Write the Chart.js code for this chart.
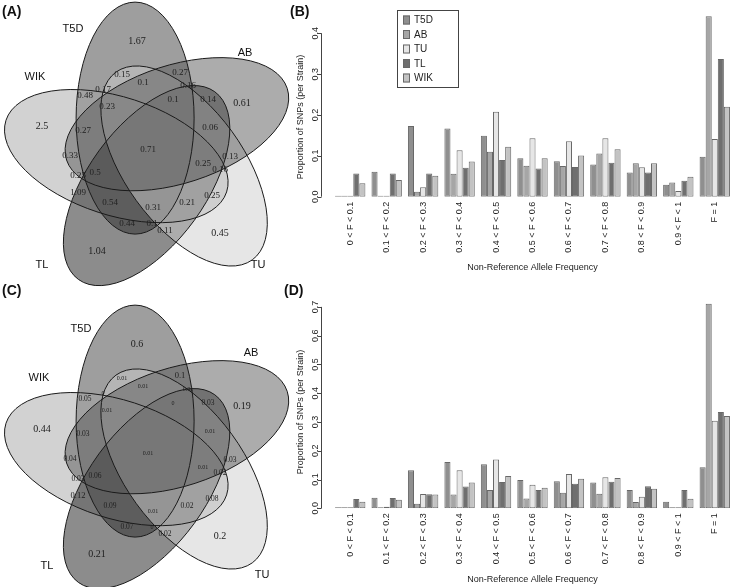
<!DOCTYPE html>
<html>
<head>
<meta charset="utf-8">
<script src="https://cdn.jsdelivr.net/npm/chart.js@4.4.1/dist/chart.umd.min.js"></script>
<style>
  html, body { margin: 0; padding: 0; background: #fff; }
  #wrap { position: relative; width: 733px; height: 587px; overflow: hidden; }
  canvas { position: absolute; }
  .tag { position: absolute; font: bold 14px "Liberation Sans", Arial, sans-serif; line-height: 16px; color: #111; }
</style>
</head>
<body>
<div id="wrap">
  <canvas id="vennA" width="295" height="295" style="left:0;top:0"></canvas>
  <canvas id="vennC" width="295" height="284" style="left:0;top:303px"></canvas>
  <canvas id="barB" width="448" height="290" style="left:285px;top:0"></canvas>
  <canvas id="barD" width="448" height="292" style="left:285px;top:295px"></canvas>
  <div class="tag" style="left:2px;top:3px">(A)</div>
  <div class="tag" style="left:290px;top:3px">(B)</div>
  <div class="tag" style="left:2px;top:282px">(C)</div>
  <div class="tag" style="left:284px;top:282px">(D)</div>
</div>
<script>
// strains and allele frequency bins
const strains = ["T5D", "AB", "TU", "TL", "WIK"];
const freqBins = ["0 < F < 0.1", "0.1 < F < 0.2", "0.2 < F < 0.3", "0.3 < F < 0.4", "0.4 < F < 0.5",
  "0.5 < F < 0.6", "0.6 < F < 0.7", "0.7 < F < 0.8", "0.8 < F < 0.9", "0.9 < F < 1", "F = 1"];

// (B) proportion of SNPs per strain
const allT5D = [0, 0.061, 0.173, 0.167, 0.149, 0.094, 0.087, 0.079, 0.059, 0.029, 0.098];
const allAB  = [0, 0, 0.012, 0.056, 0.110, 0.076, 0.075, 0.106, 0.082, 0.035, 0.442];
const allTU  = [0, 0, 0.023, 0.114, 0.208, 0.143, 0.136, 0.143, 0.072, 0.014, 0.141];
const allTL  = [0.057, 0.057, 0.057, 0.071, 0.090, 0.069, 0.073, 0.083, 0.059, 0.039, 0.337];
const allWIK = [0.033, 0.041, 0.051, 0.086, 0.122, 0.094, 0.101, 0.116, 0.082, 0.049, 0.220];

// (D) proportion of SNPs per strain
const subT5D = [0, 0.037, 0.132, 0.161, 0.153, 0.098, 0.094, 0.090, 0.064, 0.023, 0.143];
const subAB  = [0, 0.003, 0.016, 0.048, 0.064, 0.034, 0.054, 0.051, 0.022, 0, 0.711];
const subTU  = [0, 0.005, 0.050, 0.132, 0.170, 0.082, 0.119, 0.108, 0.040, 0, 0.304];
const subTL  = [0.032, 0.036, 0.049, 0.076, 0.091, 0.064, 0.085, 0.092, 0.077, 0.064, 0.335];
const subWIK = [0.023, 0.030, 0.048, 0.090, 0.112, 0.071, 0.103, 0.105, 0.068, 0.033, 0.321];

// venn region values, same region order in (A) and (C)
const vennA = [1.67, 0.27, 0.15, 0.1, 0.16, 0.48, 0.17, 0.1, 0.14, 0.61, 0.23, 2.5, 0.27, 0.06, 0.33,
  0.71, 0.25, 0.13, 0.25, 0.5, 0.16, 1.09, 0.54, 0.31, 0.21, 0.25, 0.44, 0.1, 0.11, 0.45, 1.04];
const vennC = [0.6, 0.1, 0.01, 0.01, 0.01, 0.05, 0, 0, 0.03, 0.19, 0.01, 0.44, 0.03, 0.01, 0.04,
  0.01, 0.01, 0.03, 0.03, 0.06, 0.02, 0.12, 0.09, 0.01, 0.02, 0.08, 0.07, 0, 0.02, 0.2, 0.21];
const singleRegions = [0, 9, 11, 29, 30];

// layout of the venn (units = px of the venn box)
const regionPos = [[137,41],[180,73],[122,75],[143,83],[188,86],[85,96],[103,90],[173,100],[208,100],
  [242,103],[107,107],[42,126],[83,131],[210,128],[70,156],[148,150],[203,164],[230,157],[78,176],
  [95,173],[220,170],[78,193],[110,203],[153,208],[187,203],[212,196],[127,224],[152,224],[165,231],
  [220,233],[97,251]];
const setPosA = [[73,29],[245,53],[258,265],[42,265],[35,77]];
const setPosC = [[81,26],[251,50],[262,272],[47,263],[39,75]];
// drawn in venn category order: T5D, WIK, TL, TU, AB
const ellipses = [
  { cx: 135.1, cy: 118.1, rot: 90,  gray: 61 },
  { cx: 116.3, cy: 156.1, rot: 18,  gray: 165 },
  { cx: 146.6, cy: 185.6, rot: -54, gray: 25 },
  { cx: 184.1, cy: 166.0, rot: 54,  gray: 205 },
  { cx: 176.9, cy: 124.2, rot: -18, gray: 89 }
];
const semiMajor = 116, semiMinor = 59;

const barFill = ["#8f8f8f", "#a6a6a6", "#e6e6e6", "#6f6f6f", "#c3c3c3"];

Chart.defaults.font.family = '"Liberation Sans", Arial, sans-serif';
Chart.defaults.color = "#222";

const vennPlugin = {
  id: "venn",
  beforeDatasetsDraw(chart, args, opts) {
    const { ctx, scales: { x, y } } = chart;
    const k = x.getPixelForValue(1) - x.getPixelForValue(0);
    const path = e => {
      ctx.beginPath();
      ctx.ellipse(x.getPixelForValue(e.cx), y.getPixelForValue(e.cy), semiMajor * k, semiMinor * k,
        e.rot * Math.PI / 180, 0, 2 * Math.PI);
    };
    ctx.save();
    ellipses.forEach(e => {
      path(e);
      ctx.fillStyle = `rgba(${e.gray},${e.gray},${e.gray},0.5)`;
      ctx.fill();
    });
    ctx.strokeStyle = "#1a1a1a";
    ctx.lineWidth = 1;
    ellipses.forEach(e => { path(e); ctx.stroke(); });
    ctx.restore();
  },
  afterDatasetsDraw(chart, args, opts) {
    const { ctx } = chart;
    ctx.save();
    ctx.textAlign = "center";
    ctx.textBaseline = "middle";
    ctx.fillStyle = "#222";
    chart.getDatasetMeta(0).data.forEach((pt, i) => {
      const v = opts.values[i];
      ctx.font = opts.size(v, singleRegions.includes(i)) + 'px "Liberation Serif", "Times New Roman", serif';
      ctx.fillText(String(v), pt.x, pt.y);
    });
    ctx.fillStyle = "#111";
    ctx.font = '11px "Liberation Sans", Arial, sans-serif';
    chart.getDatasetMeta(1).data.forEach((pt, i) => ctx.fillText(strains[i], pt.x, pt.y));
    ctx.restore();
  }
};

function drawVenn(id, values, setPos, h, size) {
  new Chart(document.getElementById(id), {
    type: "scatter",
    data: {
      datasets: [
        { data: regionPos.map(([x, y]) => ({ x, y })), pointRadius: 0 },
        { data: setPos.map(([x, y]) => ({ x, y })), pointRadius: 0 }
      ]
    },
    options: {
      responsive: false, animation: false, events: [],
      layout: { padding: 0 },
      scales: {
        x: { type: "linear", display: false, min: 0, max: 295 },
        y: { type: "linear", display: false, min: 0, max: h, reverse: true }
      },
      plugins: { legend: { display: false }, tooltip: { enabled: false }, venn: { values, size } }
    },
    plugins: [vennPlugin]
  });
}

drawVenn("vennA", vennA, setPosA, 295, (v, single) => single ? 10 : 9);
drawVenn("vennC", vennC, setPosC, 284, (v, single) => single ? 10 : v >= 0.1 ? 8.5 : v >= 0.02 ? 7.5 : 6);

// R style y axis set apart from the bars, its title, plus boxed legend
const rAxisPlugin = {
  id: "rAxis",
  afterDraw(chart, args, opts) {
    const { ctx, chartArea, scales: { y } } = chart;
    const ax = Math.round(chartArea.left - 11) + 0.5;
    const ticks = y.ticks.map(t => t.value);
    ctx.save();
    ctx.strokeStyle = "#444";
    ctx.lineWidth = 1;
    ctx.beginPath();
    ctx.moveTo(ax, y.getPixelForValue(ticks[0]));
    ctx.lineTo(ax, y.getPixelForValue(ticks[ticks.length - 1]));
    ticks.forEach(v => {
      const py = Math.round(y.getPixelForValue(v)) + 0.5;
      ctx.moveTo(ax, py);
      ctx.lineTo(ax - 4, py);
    });
    ctx.stroke();
    ctx.fillStyle = "#222";
    ctx.font = '9px "Liberation Sans", Arial, sans-serif';
    ctx.textAlign = "center";
    ctx.textBaseline = "alphabetic";
    ticks.forEach(v => {
      ctx.save();
      ctx.translate(ax - 4, y.getPixelForValue(v));
      ctx.rotate(-Math.PI / 2);
      ctx.fillText(v.toFixed(1), 0, 0);
      ctx.restore();
    });
    ctx.save();
    ctx.translate(ax - 21, y.getPixelForValue(opts.titleAt));
    ctx.rotate(-Math.PI / 2);
    ctx.textBaseline = "middle";
    ctx.fillText("Proportion of SNPs (per Strain)", 0, 0);
    ctx.restore();
    if (opts.legend) {
      const L = opts.legend;
      ctx.strokeStyle = "#444";
      ctx.strokeRect(L.x + 0.5, L.y + 0.5, L.w, L.h);
      ctx.font = '10px "Liberation Sans", Arial, sans-serif';
      ctx.textAlign = "left";
      ctx.textBaseline = "middle";
      chart.data.datasets.forEach((ds, i) => {
        const cy = L.y + 10 + i * 14.5;
        ctx.fillStyle = ds.backgroundColor;
        ctx.fillRect(L.x + 6, cy - 4.5, 7, 9);
        ctx.strokeStyle = ds.borderColor;
        ctx.strokeRect(L.x + 6.5, cy - 4, 6, 8);
        ctx.fillStyle = "#222";
        ctx.fillText(ds.label, L.x + 17, cy + 0.5);
      });
    }
    ctx.restore();
  }
};

function drawBars(id, series, yMax, padTop, xHeight, titleBottom, titleAt, legend) {
  new Chart(document.getElementById(id), {
    type: "bar",
    data: {
      labels: freqBins,
      datasets: strains.map((s, i) => ({
        label: s,
        data: series[i],
        backgroundColor: barFill[i],
        borderColor: "#686868",
        borderWidth: 1,
        borderSkipped: false,
        minBarLength: 1,
        categoryPercentage: 5 / 6,
        barPercentage: 1
      }))
    },
    options: {
      responsive: false, animation: false, events: [],
      layout: { padding: { top: padTop, left: 0, right: 0, bottom: 0 } },
      plugins: { legend: { display: false }, tooltip: { enabled: false }, rAxis: { legend, titleAt } },
      scales: {
        x: {
          grid: { display: false, drawTicks: false },
          border: { display: false },
          ticks: { autoSkip: false, minRotation: 90, maxRotation: 90, padding: 5, font: { size: 9 } },
          title: { display: true, text: "Non-Reference Allele Frequency", font: { size: 9 }, padding: { top: 0, bottom: titleBottom } },
          afterFit: s => { s.height = xHeight; }
        },
        y: {
          min: 0, max: yMax,
          grid: { display: false, drawTicks: false },
          border: { display: false },
          ticks: { display: false, stepSize: 0.1, includeBounds: false },
          afterFit: s => { s.width = 47; }
        }
      }
    },
    plugins: [rAxisPlugin]
  });
}

drawBars("barB", [allT5D, allAB, allTU, allTL, allWIK], 0.457, 10, 93.3, 16.6, 0.195,
  { x: 112, y: 10, w: 61, h: 77 });
drawBars("barD", [subT5D, subAB, subTU, subTL, subWIK], 0.724, 5, 78.7, 2.3, 0.335, null);
</script>
</body>
</html>
